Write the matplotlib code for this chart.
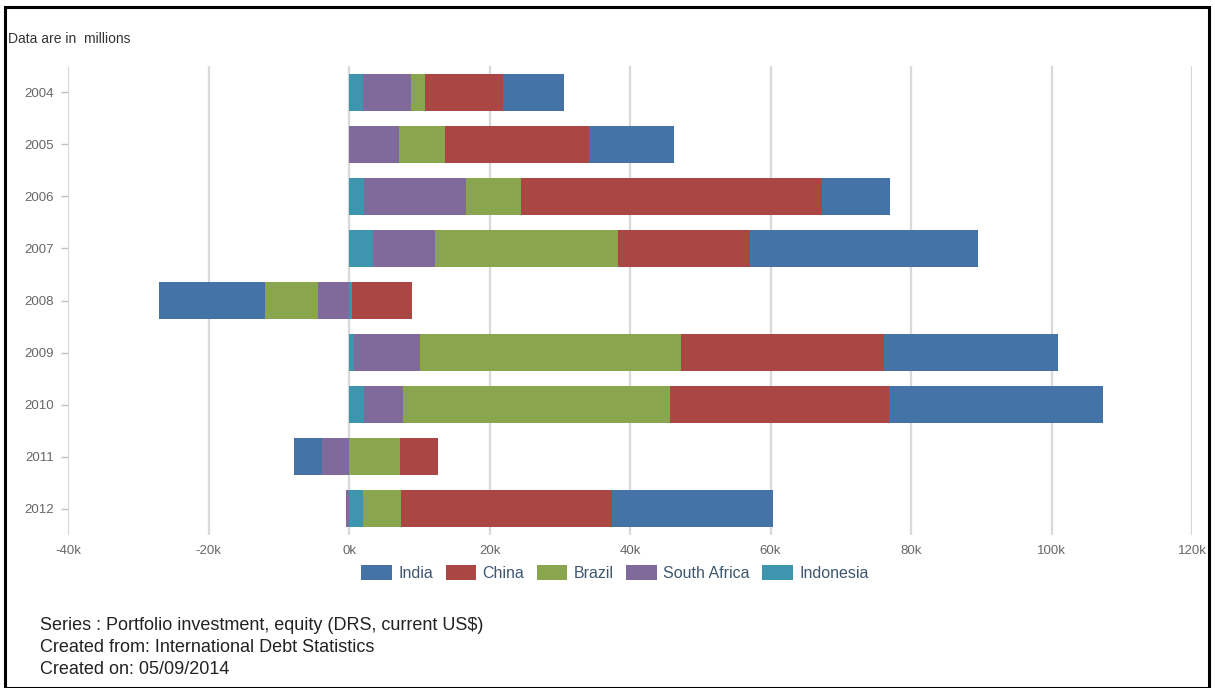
import numpy as np
import matplotlib
matplotlib.use("Agg")
import matplotlib.pyplot as plt
from matplotlib.patches import Rectangle, Patch

plt.rcParams["font.family"] = ["Liberation Sans", "DejaVu Sans"]

years = ["2004", "2005", "2006", "2007", "2008", "2009", "2010", "2011", "2012"]
india = [8700, 12100, 9600, 32500, -15200, 24800, 30500, -4000, 22900]
china = [11100, 20500, 42900, 18800, 8600, 28900, 31100, 5400, 30000]
brazil = [2000, 6600, 7800, 26100, -7500, 37100, 38000, 7200, 5400]
south_africa = [6800, 7100, 14600, 8800, -4400, 9400, 5600, -3800, -400]
indonesia = [2000, 0, 2100, 3400, 400, 700, 2100, 0, 2000]

series_names = ["India", "China", "Brazil", "South Africa", "Indonesia"]
series_vals = [india, china, brazil, south_africa, indonesia]
colors = ["#4572A7", "#AA4643", "#89A54E", "#80699B", "#3D96AE"]
xticks = [-40000, -20000, 0, 20000, 40000, 60000, 80000, 100000, 120000]
xticklabels = ["-40k", "-20k", "0k", "20k", "40k", "60k", "80k", "100k", "120k"]

W, H = 1215, 688
fig = plt.figure(figsize=(W / 100, H / 100), dpi=100)
fig.patch.set_facecolor("white")

ax = fig.add_axes([68 / W, 1 - 535 / H, (1192 - 68) / W, (535 - 66) / H])
ax.set_facecolor("white")

y = np.arange(len(years))
pos_base = np.zeros(len(years))
neg_base = np.zeros(len(years))
# stack from base: Indonesia, South Africa, Brazil, China, India
for name, vals, col in reversed(list(zip(series_names, series_vals, colors))):
    v = np.array(vals, dtype=float)
    left = np.where(v >= 0, pos_base, neg_base)
    ax.barh(y, v, left=left, height=0.71, color=col, edgecolor="none", zorder=3)
    pos_base = pos_base + np.where(v >= 0, v, 0)
    neg_base = neg_base + np.where(v < 0, v, 0)

ax.set_xlim(-40000, 120000)
ax.set_ylim(len(years) - 0.5, -0.5)
ax.set_xticks(xticks)
ax.set_xticklabels(xticklabels)
ax.set_yticks(y)
ax.set_yticklabels(years)
ax.grid(axis="x", color="#d9d9d9", linewidth=1.6, zorder=0)
ax.grid(axis="y", visible=False)
for s in ax.spines.values():
    s.set_visible(False)
ax.tick_params(axis="x", length=0, pad=7, labelsize=9.5, labelcolor="#666666")
ax.tick_params(axis="y", length=5, width=1, color="#c0c0c0", pad=5,
               labelsize=9.5, labelcolor="#666666")

handles = [Patch(facecolor=c, edgecolor="none") for c in colors]
fig.legend(handles, series_names, loc="center", bbox_to_anchor=(615 / W, 1 - 573 / H),
           ncol=5, frameon=False, fontsize=11.5, handlelength=1.9, handleheight=1.1,
           handletextpad=0.4, columnspacing=0.8, labelcolor="#3e576f")

fig.text(8 / W, 1 - 39 / H, "Data are in  millions", fontsize=10, color="#333333",
         ha="left", va="center")
fs = 13
fig.text(40 / W, 1 - 625 / H, "Series : Portfolio investment, equity (DRS, current US$)",
         fontsize=fs, color="#222222", ha="left", va="center")
fig.text(40 / W, 1 - 648 / H, "Created from: International Debt Statistics",
         fontsize=fs, color="#222222", ha="left", va="center")
fig.text(40 / W, 1 - 670 / H, "Created on: 05/09/2014",
         fontsize=fs, color="#222222", ha="left", va="center")

border = Rectangle((5 / W, 0), (1209 - 5) / W, 1 - 7 / H, transform=fig.transFigure,
                   fill=False, edgecolor="black", linewidth=2.2)
fig.patches.append(border)

fig.savefig("out.png", dpi=100, facecolor="white")
